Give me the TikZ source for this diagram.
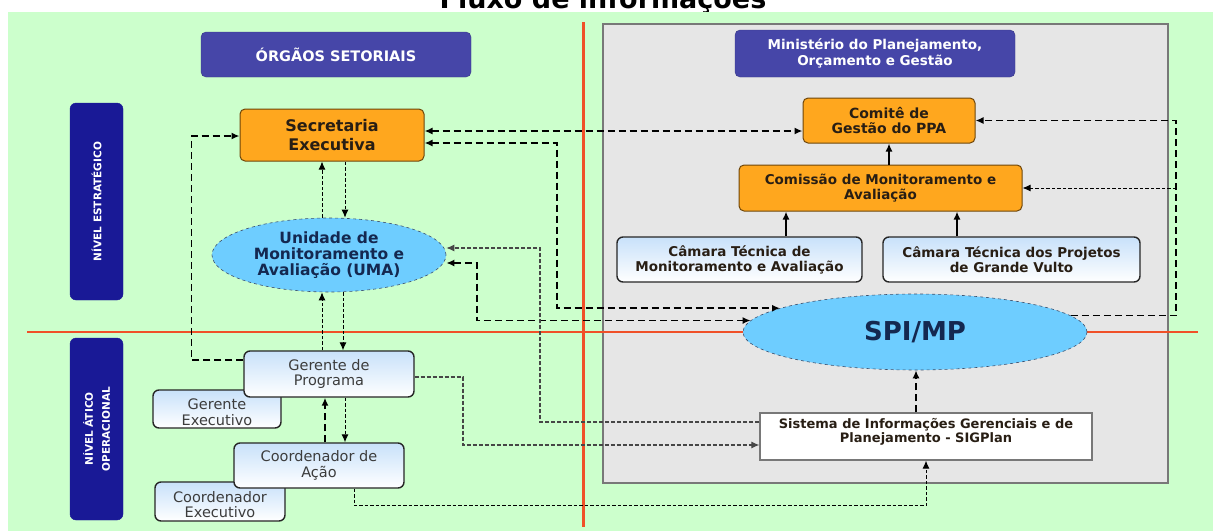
\documentclass[tikz,border=0pt]{standalone}
\usepackage{fontspec}
\setmainfont{DejaVu Sans}
\usetikzlibrary{arrows.meta,shapes.geometric}
\definecolor{bggreen}{RGB}{204,255,204}
\definecolor{grayfill}{RGB}{230,230,230}
\definecolor{grayedge}{RGB}{120,120,120}
\definecolor{redline}{RGB}{240,80,40}
\definecolor{hdrblue}{RGB}{70,70,168}
\definecolor{navybox}{RGB}{25,25,150}
\definecolor{orangebox}{RGB}{255,167,30}
\definecolor{orangeedge}{RGB}{110,70,10}
\definecolor{skyfill}{RGB}{110,205,255}
\definecolor{skyedge}{RGB}{60,80,110}
\definecolor{skytext}{RGB}{20,40,80}
\definecolor{paleblue}{RGB}{200,225,250}
\definecolor{boxtext}{RGB}{60,60,60}
\definecolor{darktext}{RGB}{40,30,20}
\definecolor{linegray}{RGB}{70,70,70}
\begin{document}
\begin{tikzpicture}[x=1pt,y=-1pt,
  >={Latex[length=8pt,width=7pt]},
  every node/.style={align=center,inner sep=2pt},
  hdr/.style={fill=hdrblue,draw=hdrblue!80!black,rounded corners=5pt,text=white,font=\bfseries\fontsize{14.5}{15.5}\selectfont},
  lvl/.style={fill=navybox,draw=navybox,rounded corners=6pt,text=white,font=\bfseries\fontsize{10.5}{17}\selectfont},
  obox/.style={fill=orangebox,draw=orangeedge,line width=1pt,rounded corners=5pt,text=darktext,font=\bfseries\fontsize{13.5}{15}\selectfont},
  oval/.style={ellipse,fill=skyfill,draw=skyedge,dashed,line width=0.6pt,inner sep=0pt,text=skytext},
  wbox/.style={top color=paleblue,bottom color=white,draw=black!85,line width=1.4pt,rounded corners=6pt,text=boxtext,font=\fontsize{14.5}{15.5}\selectfont},
  wtext/.style={text=boxtext,font=\fontsize{14.5}{15.5}\selectfont},
  cbox/.style={wbox,text=darktext,font=\bfseries\fontsize{13.5}{15}\selectfont},
  sbox/.style={fill=white,draw=grayedge,line width=1.3pt},
  thk/.style={line width=1.7pt,dash pattern=on 7pt off 4pt},
  thn/.style={line width=1pt,dash pattern=on 3.5pt off 2pt},
  gry/.style={line width=1.1pt,dash pattern=on 4pt off 2pt,draw=linegray},
  sol/.style={line width=2pt}
]
\useasboundingbox (0,0) rectangle (1213,531);
% title (cut off at top, as in the reference)
\node[font=\bfseries\fontsize{27}{30}\selectfont,anchor=base,inner sep=0pt] (title) at (603,8) {Fluxo de informações};
% background
\fill[bggreen] (8,12) rectangle (1213,531);
\filldraw[fill=grayfill,draw=grayedge,line width=1.2pt] (603,24) rectangle (1168,483);
% red axes
\draw[redline,line width=3pt] (583,22) -- (583,527);
\draw[redline,line width=2.5pt] (27,332) -- (1198,332);

% headers
\node[hdr,minimum width=270pt,minimum height=45pt] (org) at (336,54.5) {ÓRGÃOS SETORIAIS};
\node[hdr,minimum width=280pt,minimum height=47pt,font=\bfseries\fontsize{13.5}{15.5}\selectfont] (min) at (875,53.5) {Ministério do Planejamento,\\Orçamento e Gestão};
\node[lvl,rotate=90,minimum width=197pt,minimum height=53pt] (niv1) at (96.5,201.5) {NÍVEL ESTRATÉGICO};
\node[lvl,rotate=90,minimum width=182pt,minimum height=53pt] (niv2) at (96.5,429) {NÍVEL ÁTICO\\OPERACIONAL};

% orange boxes
\node[obox,minimum width=184pt,minimum height=52pt,font=\bfseries\fontsize{16}{18.5}\selectfont] (sec) at (332,135) {Secretaria\\Executiva};
\node[obox,minimum width=172pt,minimum height=45pt,font=\bfseries\fontsize{14}{15.5}\selectfont] (comite) at (889,120.5) {Comitê de\\Gestão do PPA};
\node[obox,minimum width=283pt,minimum height=46pt] (comissao) at (880.5,188) {Comissão de Monitoramento e\\Avaliação};

% ellipses
\node[oval,minimum width=234pt,minimum height=74pt,font=\bfseries\fontsize{15.5}{16}\selectfont] (uma) at (329,255) {Unidade de\\Monitoramento e\\Avaliação (UMA)};
\node[oval,minimum width=344pt,minimum height=76pt,font=\bfseries\fontsize{26}{30}\selectfont] (spi) at (915,332) {SPI/MP};

% white boxes
\node[wbox,minimum width=128pt,minimum height=38pt] (gexec) at (217,409) {};
\node[wtext] (gexect) at ([yshift=-3pt]gexec.center) {Gerente\\Executivo};
\node[wbox,minimum width=170pt,minimum height=46pt] (ger) at (329,374) {Gerente de\\Programa};
\node[wbox,minimum width=130pt,minimum height=39pt] (cexec) at (220,501.5) {};
\node[wtext] (cexect) at ([yshift=-3pt]cexec.center) {Coordenador\\Executivo};
\node[wbox,minimum width=170pt,minimum height=45pt] (coord) at (319,465.5) {Coordenador de\\Ação};
\node[cbox,minimum width=245pt,minimum height=45pt] (cam1) at (739.5,259.5) {Câmara Técnica de\\Monitoramento e Avaliação};
\node[cbox,minimum width=257pt,minimum height=45pt] (cam2) at (1011.5,259.5) {Câmara Técnica dos Projetos\\de Grande Vulto};
\node[sbox,minimum width=332pt,minimum height=47pt] (sig) at (926,436.5) {};
\node[font=\bfseries\fontsize{13}{14.5}\selectfont,text=darktext] (sigt) at ([yshift=4.5pt]sig.center) {Sistema de Informações Gerenciais e de\\Planejamento - SIGPlan};

% bend points
\coordinate (kleft) at (191.5,136);
\coordinate (kuma1) at (540,248);
\coordinate (kuma2) at (477,263);
\coordinate (ksec) at (557,143);
\coordinate (kright) at (1176,120.5);
\coordinate (kger) at (463,445);

% connectors
\draw[thk,<->] ([yshift=4pt]sec.east) -- ([yshift=4pt]sec.east -| comite.west);
\draw[thk,<->] ([yshift=-8pt]sec.east) -- (ksec) |- (spi.170.5);
\draw[thk,<->] (uma.east |- kuma2) -- (kuma2) |- (spi.176.6);
\draw[gry,->] ([yshift=14.5pt]sig.west) -| (kuma1) -- (kuma1 -| uma.east);
\draw[thk,->] (spi.6.3) -| (kright) -- (comite.east);
\draw[thn,->] (kright |- comissao.east) -- (comissao.east);
\draw[sol,->] (comite.south |- comissao.north) -- (comite.south);
\draw[sol,->] ([xshift=46.5pt]cam1.north) -- ([xshift=46.5pt]cam1.north |- comissao.south);
\draw[sol,->] ([xshift=-54.5pt]cam2.north) -- ([xshift=-54.5pt]cam2.north |- comissao.south);
\draw[thk,->] ([xshift=-10pt]sig.north) -- ([xshift=-10pt]sig.north |- spi.south);
\draw[thn,->] ([xshift=35pt]coord.south) -- ++(0,17) -| (sig.south);
\draw[gry,->] ([yshift=-3pt]ger.east) -| (kger) -- (kger -| sig.west);
\draw[thk,->] ([yshift=14pt]ger.west) -| (kleft) -- (sec.west |- kleft);
% vertical pairs
\draw[thn,->] ([xshift=-10pt]sec.south |- uma.north) -- ([xshift=-10pt]sec.south);
\draw[thn,->] ([xshift=13pt]sec.south) -- ([xshift=13pt]sec.south |- uma.north);
\draw[thn,->] ([xshift=-7pt]ger.north) -- ([xshift=-7pt]ger.north |- uma.south);
\draw[thn,->] ([xshift=14pt]ger.north |- uma.south) -- ([xshift=14pt]ger.north);
\draw[thk,->] ([xshift=6pt]coord.north) -- ([xshift=6pt]coord.north |- ger.south);
\draw[thn,->] ([xshift=26pt]coord.north |- ger.south) -- ([xshift=26pt]coord.north);
\end{tikzpicture}
\end{document}
